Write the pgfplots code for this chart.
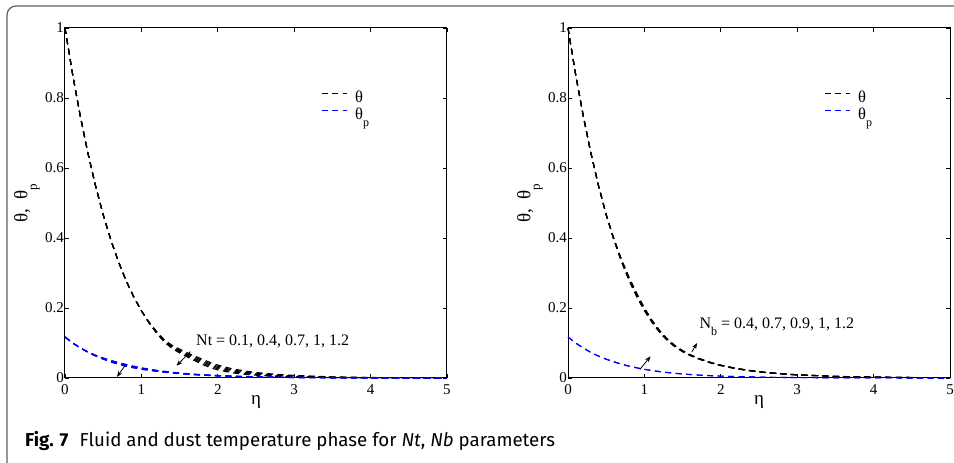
\documentclass[border=0pt]{standalone}
\usepackage{fontspec}
\setmainfont{Liberation Serif}
\newfontfamily\capfont{Fira Sans}
\usepackage{pgfplots}
\usepackage{pgfplotstable}
\pgfplotsset{compat=1.18}
\usetikzlibrary{arrows.meta}
\definecolor{mblue}{RGB}{0,0,255}
\definecolor{framegray}{RGB}{95,95,95}

% left panel: eta, theta for Nt = 0.1..1.2 (L1..L5), theta_p (P1..P5)
\pgfplotstableread{
eta L1 L2 L3 L4 L5 P1 P2 P3 P4 P5
0.0 1.0000 1.0000 1.0000 1.0000 1.0000 0.1170 0.1170 0.1170 0.1170 0.1170
0.1 0.8672 0.8672 0.8672 0.8672 0.8672 0.1000 0.1000 0.1000 0.1000 0.1000
0.2 0.7483 0.7483 0.7483 0.7483 0.7483 0.0860 0.0860 0.0860 0.0860 0.0860
0.3 0.6424 0.6424 0.6424 0.6424 0.6424 0.0733 0.0736 0.0740 0.0744 0.0747
0.4 0.5488 0.5488 0.5488 0.5488 0.5488 0.0627 0.0634 0.0640 0.0646 0.0653
0.5 0.4665 0.4665 0.4665 0.4665 0.4665 0.0536 0.0545 0.0555 0.0565 0.0574
0.6 0.3946 0.3946 0.3946 0.3946 0.3946 0.0456 0.0468 0.0480 0.0492 0.0504
0.7 0.3320 0.3320 0.3320 0.3320 0.3320 0.0388 0.0402 0.0415 0.0428 0.0442
0.8 0.2780 0.2780 0.2780 0.2780 0.2780 0.0331 0.0346 0.0360 0.0374 0.0389
0.9 0.2317 0.2317 0.2317 0.2317 0.2317 0.0287 0.0300 0.0312 0.0324 0.0337
1.0 0.1920 0.1920 0.1920 0.1920 0.1920 0.0248 0.0259 0.0270 0.0281 0.0292
1.1 0.1568 0.1576 0.1584 0.1592 0.1600 0.0216 0.0226 0.0235 0.0244 0.0254
1.2 0.1274 0.1287 0.1300 0.1313 0.1326 0.0189 0.0197 0.0205 0.0213 0.0221
1.3 0.1028 0.1044 0.1060 0.1076 0.1092 0.0164 0.0171 0.0178 0.0185 0.0192
1.4 0.0846 0.0868 0.0890 0.0912 0.0935 0.0143 0.0149 0.0155 0.0161 0.0167
1.5 0.0716 0.0743 0.0770 0.0797 0.0824 0.0123 0.0129 0.0134 0.0139 0.0145
1.6 0.0601 0.0630 0.0660 0.0690 0.0719 0.0107 0.0111 0.0116 0.0121 0.0125
1.7 0.0493 0.0526 0.0560 0.0594 0.0627 0.0092 0.0096 0.0100 0.0104 0.0108
1.8 0.0386 0.0423 0.0460 0.0497 0.0534 0.0080 0.0084 0.0087 0.0090 0.0094
1.9 0.0296 0.0333 0.0370 0.0407 0.0444 0.0069 0.0072 0.0075 0.0078 0.0081
2.0 0.0231 0.0266 0.0300 0.0335 0.0369 0.0060 0.0062 0.0065 0.0068 0.0070
2.2 0.0144 0.0172 0.0200 0.0228 0.0256 0.0045 0.0047 0.0049 0.0051 0.0053
2.4 0.0095 0.0118 0.0140 0.0162 0.0185 0.0034 0.0036 0.0037 0.0038 0.0040
2.6 0.0065 0.0083 0.0100 0.0118 0.0135 0.0025 0.0026 0.0027 0.0028 0.0029
2.8 0.0045 0.0058 0.0072 0.0086 0.0099 0.0018 0.0019 0.0020 0.0021 0.0022
3.0 0.0031 0.0042 0.0052 0.0062 0.0073 0.0014 0.0014 0.0015 0.0016 0.0016
3.5 0.0012 0.0017 0.0022 0.0027 0.0032 0.0006 0.0007 0.0007 0.0007 0.0008
4.0 0.0005 0.0007 0.0009 0.0011 0.0014 0.0003 0.0003 0.0003 0.0003 0.0003
4.5 0.0002 0.0003 0.0004 0.0005 0.0006 0.0001 0.0001 0.0002 0.0002 0.0002
5.0 0.0001 0.0002 0.0002 0.0003 0.0003 0.0001 0.0001 0.0001 0.0001 0.0001
}\lefttab

% right panel: eta, theta for Nb = 0.4..1.2 (R1..R5), theta_p (Q1, Q2)
\pgfplotstableread{
eta R1 R2 R3 R4 R5 Q1 Q2
0.0 1.0000 1.0000 1.0000 1.0000 1.0000 0.1170 0.1170
0.1 0.8672 0.8672 0.8672 0.8672 0.8672 0.1000 0.1000
0.2 0.7483 0.7483 0.7483 0.7483 0.7483 0.0855 0.0855
0.3 0.6424 0.6424 0.6424 0.6424 0.6424 0.0730 0.0730
0.4 0.5488 0.5488 0.5488 0.5488 0.5488 0.0625 0.0625
0.5 0.4665 0.4665 0.4665 0.4665 0.4665 0.0535 0.0540
0.6 0.3946 0.3956 0.3966 0.3976 0.3989 0.0458 0.0465
0.7 0.3320 0.3337 0.3353 0.3370 0.3395 0.0392 0.0399
0.8 0.2780 0.2801 0.2822 0.2843 0.2875 0.0335 0.0341
0.9 0.2317 0.2340 0.2363 0.2387 0.2421 0.0287 0.0293
1.0 0.1920 0.1939 0.1958 0.1978 0.2006 0.0246 0.0251
1.1 0.1584 0.1600 0.1616 0.1632 0.1655 0.0211 0.0215
1.2 0.1300 0.1313 0.1326 0.1339 0.1359 0.0181 0.0185
1.3 0.1070 0.1081 0.1091 0.1102 0.1118 0.0155 0.0158
1.4 0.0889 0.0898 0.0907 0.0916 0.0929 0.0133 0.0136
1.5 0.0750 0.0758 0.0765 0.0773 0.0784 0.0114 0.0116
1.6 0.0639 0.0645 0.0652 0.0658 0.0668 0.0098 0.0100
1.7 0.0550 0.0556 0.0561 0.0567 0.0575 0.0084 0.0086
1.8 0.0474 0.0479 0.0483 0.0488 0.0495 0.0072 0.0073
1.9 0.0408 0.0412 0.0416 0.0420 0.0426 0.0062 0.0063
2.0 0.0353 0.0357 0.0360 0.0364 0.0369 0.0053 0.0054
2.2 0.0265 0.0268 0.0270 0.0273 0.0277 0.0039 0.0040
2.4 0.0200 0.0202 0.0204 0.0206 0.0209 0.0029 0.0030
2.6 0.0151 0.0153 0.0154 0.0156 0.0158 0.0021 0.0022
2.8 0.0116 0.0117 0.0118 0.0119 0.0121 0.0016 0.0016
3.0 0.0088 0.0089 0.0090 0.0091 0.0092 0.0012 0.0012
3.5 0.0045 0.0045 0.0046 0.0046 0.0047 0.0005 0.0005
4.0 0.0024 0.0024 0.0024 0.0025 0.0025 0.0002 0.0002
4.5 0.0012 0.0012 0.0012 0.0012 0.0013 0.0001 0.0001
5.0 0.0006 0.0006 0.0006 0.0006 0.0006 0.0001 0.0001
}\righttab

\tikzset{
  fl/.style={black, line width=1.1pt, dash pattern=on 6pt off 4.5pt},
  dl/.style={mblue, line width=1.1pt, dash pattern=on 6pt off 4.5pt},
  arr/.style={black, line width=0.8pt, -{Stealth[length=6pt,width=4.5pt]}},
}

\pgfplotsset{
  myaxis/.style={
    width=382pt, height=350pt, scale only axis,
    xmin=0, xmax=5, ymin=0, ymax=1,
    xtick={0,1,2,3,4,5}, ytick={0,0.2,0.4,0.6,0.8,1},
    tick align=inside, xtick pos=both, ytick pos=both,
    xticklabel pos=lower, yticklabel pos=left,
    major tick length=4pt,
    axis line style={line width=1pt},
    tick style={black, line width=0.7pt},
    /pgf/number format/assume math mode=true,
    ticklabel style={font=\fontsize{15}{15}\selectfont},
    xticklabel style={inner sep=1pt, yshift=-5pt},
    yticklabel style={inner sep=1pt},
    xlabel={η},
    ylabel={θ,\ \ θ\raisebox{-0.5em}{\fontsize{13}{13}\selectfont p}},
    label style={font=\fontsize{19}{19}\selectfont},
    xlabel style={at={(axis description cs:0.5,-0.077)}, anchor=base},
    ylabel style={at={(axis description cs:-0.1,0.5)}, anchor=center},
    clip=false,
    legend style={draw=none, fill=none, at={(axis cs:3.35,0.822)}, anchor=north west,
      font=\fontsize{16.5}{16.5}\selectfont, inner sep=0pt, row sep=2pt,
      nodes={inner sep=1pt, text height=11pt, text depth=2pt}},
    legend image code/.code={\draw[#1] (0pt,4.5pt) -- (25pt,4.5pt); \path (32pt,4.5pt);},
    legend cell align=left,
  },
}

\begin{document}
\begin{tikzpicture}[x=1pt,y=1pt]
\useasboundingbox (0,0) rectangle (954,463);
\draw[framegray, line width=1.2pt, rounded corners=9pt] (7,-12) -- (7,457) -- (975,457);

% ---------- left panel ----------
\begin{axis}[myaxis, at={(65pt,85pt)}, anchor=south west]
\addlegendimage{fl}\addlegendentry{θ}
\addlegendimage{dl}\addlegendentry{θ\raisebox{-0.45em}{\fontsize{12}{12}\selectfont p}}
\addplot[fl, forget plot] table[x=eta, y=L1] {\lefttab};
\addplot[fl, forget plot] table[x=eta, y=L2] {\lefttab};
\addplot[fl, forget plot] table[x=eta, y=L3] {\lefttab};
\addplot[fl, forget plot] table[x=eta, y=L4] {\lefttab};
\addplot[fl, forget plot] table[x=eta, y=L5] {\lefttab};
\addplot[dl, forget plot] table[x=eta, y=P1] {\lefttab};
\addplot[dl, forget plot] table[x=eta, y=P2] {\lefttab};
\addplot[dl, forget plot] table[x=eta, y=P3] {\lefttab};
\addplot[dl, forget plot] table[x=eta, y=P4] {\lefttab};
\addplot[dl, forget plot] table[x=eta, y=P5] {\lefttab};
\draw[arr] (axis cs:1.64,0.075) -- (axis cs:1.46,0.035);
\draw[arr] (axis cs:0.79,0.037) -- (axis cs:0.68,0.003);
\node[anchor=base west, inner sep=0pt, font=\fontsize{16}{16}\selectfont] at (axis cs:1.715,0.094) {Nt = 0.1, 0.4, 0.7, 1, 1.2};
\end{axis}

% ---------- right panel ----------
\begin{axis}[myaxis, at={(568pt,85pt)}, anchor=south west]
\addlegendimage{fl}\addlegendentry{θ}
\addlegendimage{dl}\addlegendentry{θ\raisebox{-0.45em}{\fontsize{12}{12}\selectfont p}}
\addplot[fl, forget plot] table[x=eta, y=R1] {\righttab};
\addplot[fl, forget plot] table[x=eta, y=R2] {\righttab};
\addplot[fl, forget plot] table[x=eta, y=R3] {\righttab};
\addplot[fl, forget plot] table[x=eta, y=R4] {\righttab};
\addplot[fl, forget plot] table[x=eta, y=R5] {\righttab};
\addplot[dl, forget plot] table[x=eta, y=Q1] {\righttab};
\addplot[dl, forget plot] table[x=eta, y=Q2] {\righttab};
\draw[arr] (axis cs:0.94,0.024) -- (axis cs:1.08,0.062);
\draw[arr] (axis cs:1.62,0.074) -- (axis cs:1.69,0.100);
\node[anchor=base west, inner sep=0pt, font=\fontsize{16}{16}\selectfont] at (axis cs:1.72,0.142) {N\raisebox{-0.45em}{\fontsize{12}{12}\selectfont b} = 0.4, 0.7, 0.9, 1, 1.2};
\end{axis}

% ---------- caption ----------
\node[anchor=base west, inner sep=0pt, font=\capfont\fontsize{18.7}{18.7}\selectfont] at (25,16.3)
  {\textbf{Fig. 7}\hspace{0.6em}Fluid and dust temperature phase for \textit{Nt}, \textit{Nb} parameters};
\end{tikzpicture}
\end{document}
